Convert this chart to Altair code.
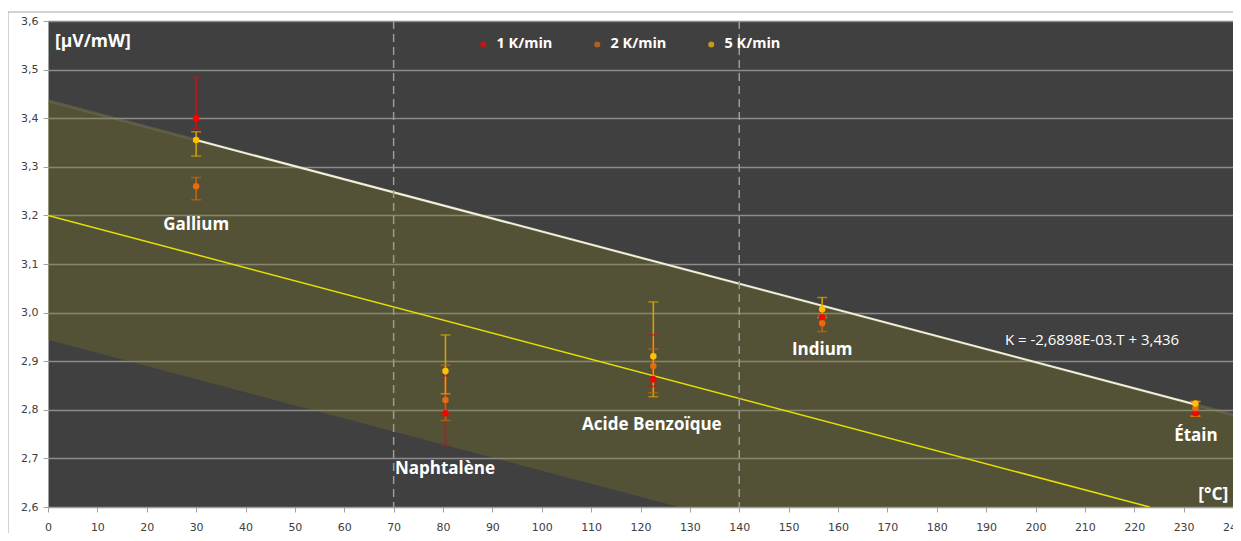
import altair as alt
import pandas as pd

# ---------------- data ----------------
materials = ["Gallium", "Naphtalène", "Acide Benzoïque", "Indium", "Étain"]
temps = [30.0, 80.5, 122.6, 156.8, 232.4]
rates = ["1 K/min", "2 K/min", "5 K/min"]

k_1 = [3.400, 2.793, 2.863, 2.990, 2.793]
k_1_low = [3.378, 2.727, 2.848, 2.975, 2.787]
k_1_high = [3.484, 2.870, 2.954, 3.005, 2.817]

k_2 = [3.260, 2.820, 2.890, 2.978, 2.803]
k_2_low = [3.232, 2.778, 2.835, 2.961, 2.787]
k_2_high = [3.278, 2.892, 2.925, 2.995, 2.817]

k_5 = [3.355, 2.880, 2.910, 3.007, 2.813]
k_5_low = [3.322, 2.833, 2.827, 2.990, 2.787]
k_5_high = [3.372, 2.954, 3.022, 3.031, 2.817]

point_colors = ["#ff0000", "#e46c0a", "#ffc000"]
bar_colors = ["#c0141a", "#c8650c", "#d9a400"]

# tolerance band (end points)
band_T = [0.0, 240.0]
band_upper = [3.436, 2.790]
band_lower = [2.944, 2.298]

# fitted trend line K = -2,6898E-03.T + 3,436 (end points)
fit_T = [30.0, 232.4]
fit_K = [3.355, 2.811]

# reference line (end points)
ref_T = [0.0, 223.1]
ref_K = [3.200, 2.600]

vlines_T = [70, 140]

label_T = [30.0, 80.4, 122.3, 156.8, 232.5]
label_K = [3.180, 2.678, 2.769, 2.923, 2.746]

equation_text = ["K = -2,6898E-03.T + 3,436"]
equation_T = [193.8]
equation_K = [2.944]

unit_y_text = ["[µV/mW]"]
unit_y_T = [1.4]
unit_y_K = [3.557]
unit_x_text = ["[°C]"]
unit_x_T = [236.0]
unit_x_K = [2.625]

x_ticks = list(range(0, 241, 10))
y_ticks = [round(2.6 + 0.1 * i, 1) for i in range(11)]

# ---------------- tables ----------------
rows = []
for r, vals, lows, highs, pc, bc in [
    (rates[0], k_1, k_1_low, k_1_high, point_colors[0], bar_colors[0]),
    (rates[1], k_2, k_2_low, k_2_high, point_colors[1], bar_colors[1]),
    (rates[2], k_5, k_5_low, k_5_high, point_colors[2], bar_colors[2]),
]:
    for t, v, lo, hi in zip(temps, vals, lows, highs):
        rows.append({"T": t, "K": v, "low": lo, "high": hi, "rate": r, "barcol": bc})
pts = pd.DataFrame(rows)

band_df = pd.DataFrame({"T": band_T, "up": band_upper, "lo": band_lower})
fit_df = pd.DataFrame({"T": fit_T, "K": fit_K})
ref_df = pd.DataFrame({"T": ref_T, "K": ref_K})
vl_df = pd.DataFrame({"T": vlines_T})
lab_df = pd.DataFrame({"T": label_T, "K": label_K, "txt": materials})
eq_df = pd.DataFrame({"T": equation_T, "K": equation_K, "txt": equation_text})
uy_df = pd.DataFrame({"T": unit_y_T, "K": unit_y_K, "txt": unit_y_text})
ux_df = pd.DataFrame({"T": unit_x_T, "K": unit_x_K, "txt": unit_x_text})

xscale = alt.Scale(domain=[0, 240], nice=False, zero=False)
yscale = alt.Scale(domain=[2.6, 3.6], nice=False, zero=False)

xaxis = alt.Axis(values=x_ticks, title=None, grid=False, labelFont="DejaVu Sans",
                 labelFontSize=11, labelColor="#404040", tickColor="#a0a0a0",
                 tickSize=5, domainColor="#a0a0a0", labelPadding=9, labelFlush=False)
yaxis = alt.Axis(values=y_ticks, title=None, grid=True, gridColor="#8c8c8c",
                 gridWidth=1.5, labelFont="DejaVu Sans", labelFontSize=11,
                 labelColor="#404040", tickColor="#a0a0a0", tickSize=5,
                 domainColor="#a0a0a0", labelPadding=5,
                 labelExpr="replace(format(datum.value, '.1f'), '.', ',')")

band = alt.Chart(band_df).mark_area(color="#857d22", opacity=0.3, clip=True).encode(
    x=alt.X("T:Q", scale=xscale, axis=xaxis),
    y=alt.Y("lo:Q", scale=yscale, axis=yaxis),
    y2="up:Q",
)
band_edge = alt.Chart(band_df).mark_line(color="#8a8a66", strokeWidth=3, opacity=0.3,
                                        clip=True).encode(
    x=alt.X("T:Q", scale=xscale), y=alt.Y("up:Q", scale=yscale))

ref_line = alt.Chart(ref_df).mark_line(color="#e6e000", strokeWidth=1.5, clip=True).encode(
    x=alt.X("T:Q", scale=xscale), y=alt.Y("K:Q", scale=yscale))
fit_line = alt.Chart(fit_df).mark_line(color="#f0f0dc", strokeWidth=2).encode(
    x=alt.X("T:Q", scale=xscale), y=alt.Y("K:Q", scale=yscale))

vrules = alt.Chart(vl_df).mark_rule(color="#9a9a9a", strokeWidth=1.5,
                                    strokeDash=[8, 5]).encode(
    x=alt.X("T:Q", scale=xscale))

bars = alt.Chart(pts).mark_rule(strokeWidth=1.5).encode(
    x=alt.X("T:Q", scale=xscale),
    y=alt.Y("low:Q", scale=yscale),
    y2="high:Q",
    color=alt.Color("barcol:N", scale=None),
)
caps_lo = alt.Chart(pts).mark_tick(orient="horizontal", size=10, thickness=1.5).encode(
    x=alt.X("T:Q", scale=xscale),
    y=alt.Y("low:Q", scale=yscale),
    color=alt.Color("barcol:N", scale=None),
)
caps_hi = alt.Chart(pts).mark_tick(orient="horizontal", size=10, thickness=1.5).encode(
    x=alt.X("T:Q", scale=xscale),
    y=alt.Y("high:Q", scale=yscale),
    color=alt.Color("barcol:N", scale=None),
)
points = alt.Chart(pts).mark_point(filled=True, size=42, opacity=1, shape="circle").encode(
    x=alt.X("T:Q", scale=xscale),
    y=alt.Y("K:Q", scale=yscale),
    color=alt.Color("rate:N", scale=alt.Scale(domain=rates, range=point_colors),
                    legend=alt.Legend(orient="none", legendX=428, legendY=16,
                                      direction="horizontal", title=None,
                                      symbolType="circle", symbolSize=36,
                                      symbolStrokeWidth=0, labelColor="#ffffff",
                                      labelFont="Open Sans", labelFontWeight="bold",
                                      labelFontSize=14.5, columnPadding=37,
                                      labelOffset=6)),
)

labels = alt.Chart(lab_df).mark_text(font="Open Sans", fontWeight="bold", fontSize=17,
                                     color="#ffffff", align="center",
                                     baseline="middle").encode(
    x=alt.X("T:Q", scale=xscale), y=alt.Y("K:Q", scale=yscale), text="txt:N")
eq = alt.Chart(eq_df).mark_text(font="Open Sans", fontSize=15, color="#ffffff",
                                align="left", baseline="middle").encode(
    x=alt.X("T:Q", scale=xscale), y=alt.Y("K:Q", scale=yscale), text="txt:N")
uy = alt.Chart(uy_df).mark_text(font="Open Sans", fontWeight="bold", fontSize=17.5,
                                color="#ffffff", align="left",
                                baseline="middle").encode(
    x=alt.X("T:Q", scale=xscale), y=alt.Y("K:Q", scale=yscale), text="txt:N")
ux = alt.Chart(ux_df).mark_text(font="Open Sans", fontWeight="bold", fontSize=17.5,
                                color="#ffffff", align="center",
                                baseline="middle").encode(
    x=alt.X("T:Q", scale=xscale), y=alt.Y("K:Q", scale=yscale), text="txt:N")

frame = alt.Chart(pd.DataFrame({"a": [0]})).mark_rect(
    fillOpacity=0, stroke="#a6a6a6", strokeWidth=1, clip=False).encode(
    x=alt.value(-40), x2=alt.value(1200), y=alt.value(-9), y2=alt.value(514))

chart = alt.layer(
    band, band_edge, ref_line, fit_line, vrules, bars, caps_lo, caps_hi, points,
    labels, eq, uy, ux, frame,
).properties(
    width=1185, height=486,
    autosize=alt.AutoSizeParams(type="none"),
    padding={"left": 40, "top": 13, "right": 0, "bottom": 26},
    background="#ffffff",
).configure_view(fill="#404040", strokeWidth=0)

chart.save("out.html", embed_options={"renderer": "svg", "actions": False})
